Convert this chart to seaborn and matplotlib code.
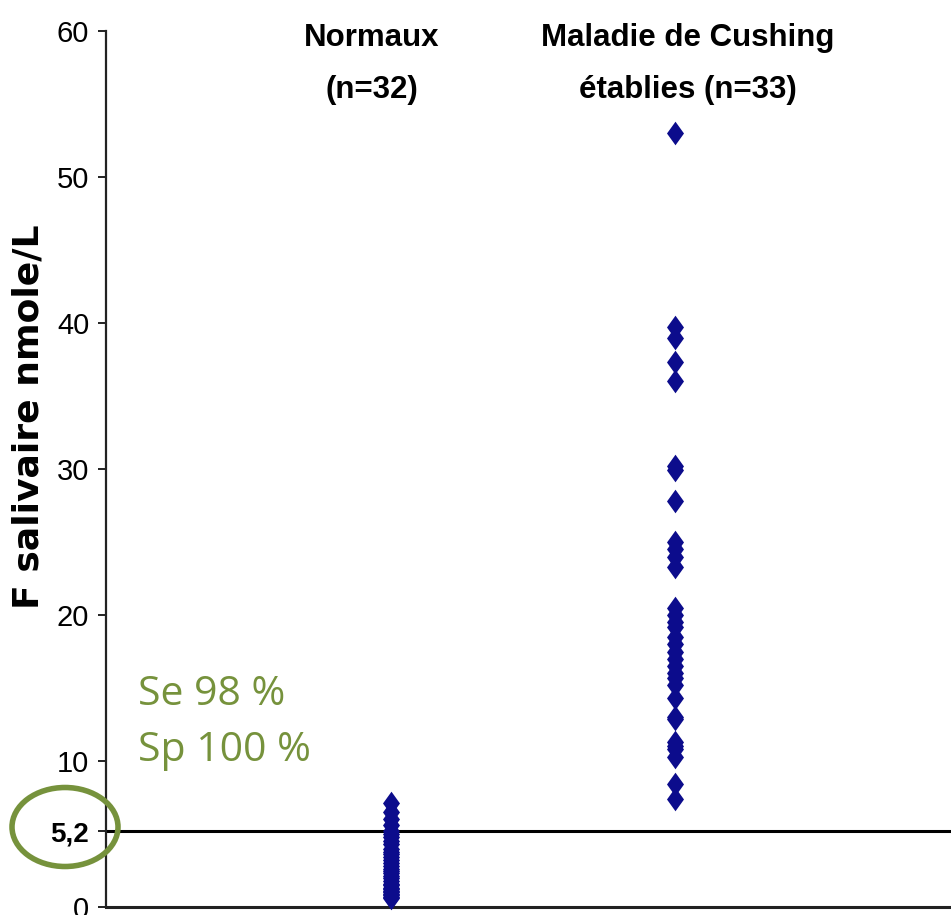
import numpy as np
import pandas as pd
import matplotlib
matplotlib.use("Agg")
import matplotlib.pyplot as plt
import seaborn as sns
from matplotlib.patches import Ellipse
from matplotlib.path import Path

# ---- data ----
groups = ["Normaux", "Cushing"]
normaux = [7.1, 6.5, 6.0, 5.6, 5.2, 5.0, 4.8, 4.5, 4.3, 4.0, 3.8, 3.6, 3.4, 3.2,
           3.0, 2.8, 2.6, 2.5, 2.3, 2.1, 2.0, 1.8, 1.6, 1.5, 1.3, 1.2, 1.1, 1.0,
           0.9, 0.8, 0.7, 0.6]
cushing = [53.0, 39.7, 39.0, 37.3, 36.0, 30.2, 29.9, 27.8, 25.0, 24.5, 24.0,
           23.3, 20.5, 20.0, 19.5, 19.2, 18.5, 18.0, 17.5, 17.0, 16.5, 16.0,
           15.7, 15.2, 14.3, 13.0, 11.3, 11.0, 10.8, 10.3, 8.4, 7.4, 12.9]
yticks = [0, 10, 20, 30, 40, 50, 60]
threshold = 5.2
threshold_label = "5,2"
header_left = ["Normaux", "(n=32)"]
header_right = ["Maladie de Cushing", "établies (n=33)"]
ylabel = "F salivaire nmole/L"
annot = ["Se 98 %", "Sp 100 %"]

df = pd.DataFrame({
    "groupe": [groups[0]] * len(normaux) + [groups[1]] * len(cushing),
    "valeur": normaux + cushing,
})

sns.set_theme(style="white")
plt.rcParams["font.family"] = ["Liberation Sans", "DejaVu Sans"]
plt.rcParams["text.color"] = "black"
plt.rcParams["ytick.color"] = "black"

W, H = 951, 915
fig = plt.figure(figsize=(W / 100, H / 100), dpi=100)
ax = fig.add_axes([106 / W, 1 - 907 / H, 1 - 106 / W, (907 - 31) / H])

diamond = Path([(0, 1), (0.72, 0), (0, -1), (-0.72, 0), (0, 1)],
               [Path.MOVETO, Path.LINETO, Path.LINETO, Path.LINETO, Path.CLOSEPOLY])
navy = "#0c0c8c"
sns.stripplot(data=df, x="groupe", y="valeur", order=groups, jitter=False,
              marker=diamond, s=17, color=navy, linewidth=0, ax=ax, clip_on=False)

ax.set_xlim(-1.0035, 1.972)
ax.set_ylim(0, 60)
ax.set_xlabel("")
ax.set_xticks([])
ax.set_ylabel("")

# threshold line
ax.axhline(threshold, color="black", lw=2.2, clip_on=False)

# spines
for s in ["top", "right"]:
    ax.spines[s].set_visible(False)
ax.spines["left"].set_color("#222222")
ax.spines["left"].set_linewidth(1.6)
ax.spines["bottom"].set_color("#222222")
ax.spines["bottom"].set_linewidth(2.2)

ax.set_yticks(yticks + [threshold])
ax.set_yticklabels([str(t) for t in yticks] + [threshold_label])
ax.tick_params(axis="y", direction="out", length=6, width=1.4, color="#222222",
               labelsize=21, pad=6, left=True, labelcolor="black")
for lbl in ax.get_yticklabels():
    if lbl.get_text() == threshold_label:
        lbl.set_fontweight("bold")
        lbl.set_fontsize(20)

# y label
fig.text(29 / W, 1 - 417 / H, ylabel, rotation=90, ha="center", va="center",
         fontsize=26, fontweight="bold", family=["DejaVu Sans"])

# headers
hfs = 22.5
fig.text(372 / W, 1 - 38 / H, header_left[0], ha="center", va="center",
         fontsize=hfs, fontweight="bold")
fig.text(372 / W, 1 - 90 / H, header_left[1], ha="center", va="center",
         fontsize=hfs, fontweight="bold")
fig.text(688 / W, 1 - 38 / H, header_right[0], ha="center", va="center",
         fontsize=hfs, fontweight="bold")
fig.text(688 / W, 1 - 90 / H, header_right[1], ha="center", va="center",
         fontsize=hfs, fontweight="bold")

# annotation
green = "#76923c"
afam = ["Open Sans", "Lato", "DejaVu Sans"]
fig.text(138 / W, 1 - 695 / H, annot[0], ha="left", va="center", fontsize=29.5,
         color=green, family=afam)
fig.text(138 / W, 1 - 751 / H, annot[1], ha="left", va="center", fontsize=29.5,
         color=green, family=afam)

ell = Ellipse((65 / W, 1 - 827 / H), 106 / W, 79 / H, transform=fig.transFigure,
              fill=False, edgecolor=green, lw=4)
fig.patches.append(ell)

fig.savefig("out.png", dpi=100)
